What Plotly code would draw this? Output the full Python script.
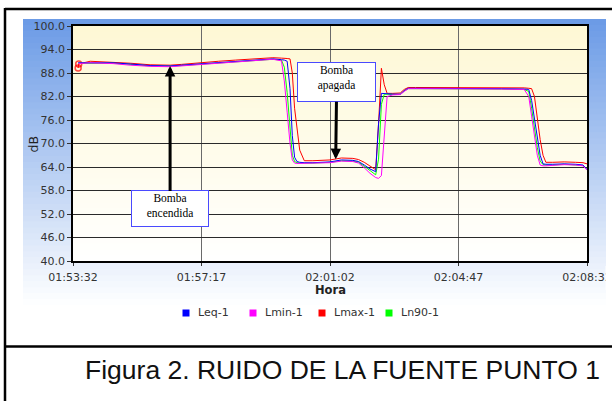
import pandas as pd
import plotly.graph_objects as go

# ---------------- data ----------------
start_time = "01:53:32"
elapsed_s = [9, 10, 30, 50, 70, 100, 135, 170, 190, 210, 240, 255, 285, 315, 330,
             350, 365, 370, 375, 380, 384, 388, 392, 397, 405, 420, 450, 470, 490, 500,
             510, 520, 530, 535, 540, 545, 550, 560, 573, 580, 587, 600, 650, 700, 750,
             790, 798, 803, 808, 813, 818, 823, 828, 840, 860, 880, 893, 900]

leq = [90.6, 90.6, 90.7, 90.7, 90.6, 90.3, 89.9, 89.8, 90.0, 90.2, 90.6, 90.7, 91.0, 91.3, 91.4,
       91.6, 91.4, 91.3, 91.0, 84.0, 72.0, 66.5, 65.4, 65.2, 65.1, 65.1, 65.3, 65.8, 65.7, 65.4,
       64.5, 63.5, 62.8, 75.0, 82.8, 82.8, 82.7, 82.6, 82.6, 83.5, 84.1, 84.1, 84.1, 84.1, 84.0,
       83.9, 83.8, 81.0, 76.0, 71.0, 67.0, 64.8, 64.7, 64.7, 64.8, 64.7, 64.5, 63.3]

lmin = [90.4, 90.4, 90.6, 90.5, 90.4, 90.0, 89.7, 89.6, 89.8, 90.0, 90.4, 90.6, 90.9, 91.2, 91.3,
        91.5, 91.1, 86.0, 78.0, 70.0, 65.8, 65.0, 64.9, 64.9, 64.9, 65.0, 65.1, 65.5, 65.4, 65.0,
        63.8, 62.4, 61.3, 61.1, 61.8, 72.0, 82.0, 82.4, 82.5, 83.3, 84.0, 84.0, 84.0, 84.0, 83.9,
        83.8, 82.0, 77.0, 72.0, 67.0, 64.5, 64.3, 64.3, 64.4, 64.6, 64.5, 64.3, 63.2]

lmax = [89.3, 90.3, 91.0, 90.9, 90.8, 90.5, 90.1, 90.0, 90.2, 90.5, 90.9, 91.0, 91.3, 91.6, 91.7,
        91.9, 91.8, 91.8, 91.7, 91.6, 88.0, 79.0, 73.5, 68.3, 65.6, 65.6, 65.8, 66.3, 66.2, 65.9,
        65.2, 64.2, 63.3, 75.0, 89.2, 85.0, 82.8, 82.8, 82.9, 83.8, 84.3, 84.3, 84.3, 84.3, 84.2,
        84.2, 84.1, 84.0, 82.0, 76.0, 71.0, 67.0, 65.2, 65.2, 65.3, 65.2, 65.1, 64.8]

ln90 = [90.5, 90.5, 90.6, 90.6, 90.5, 90.2, 89.8, 89.7, 89.9, 90.1, 90.5, 90.6, 90.9, 91.2, 91.3,
        91.5, 91.3, 89.5, 83.0, 74.0, 67.0, 65.4, 65.1, 65.0, 65.0, 65.0, 65.2, 65.6, 65.5, 65.2,
        64.2, 63.0, 62.0, 66.0, 80.0, 82.6, 82.6, 82.5, 82.5, 83.4, 84.0, 84.0, 84.0, 84.0, 83.9,
        83.8, 83.3, 79.0, 74.0, 69.0, 65.5, 64.6, 64.5, 64.5, 64.7, 64.6, 64.4, 63.3]

series_names = ["Leq-1", "Lmin-1", "Lmax-1", "Ln90-1"]
series_colors = ["#0000ff", "#ff00ff", "#ff0000", "#00ff00"]
x_tick_labels = ["01:53:32", "01:57:17", "02:01:02", "02:04:47", "02:08:32"]
y_range = [40, 100]
y_step = 6

# ---------------- helpers ----------------
DAY = "2000-01-01 "
t0 = pd.Timestamp(DAY + start_time)
x_time = [t0 + pd.Timedelta(seconds=s) for s in elapsed_s]
tickvals = [pd.Timestamp(DAY + t) for t in x_tick_labels]

# plot area in pixels
W, H = 612, 401
L, R, T, B = 73, 587, 26, 261


def px(x):
    return (x - L) / (R - L)


def py(y):
    return (B - y) / (B - T)


def lerp(c1, c2, f):
    return "rgb(%d,%d,%d)" % tuple(round(a + (b - a) * f) for a, b in zip(c1, c2))


shapes = []
# blue panel gradient
p_top, p_bot, nb = 19, 305, 48
for i in range(nb):
    y0 = p_top + (p_bot - p_top) * i / nb
    y1 = p_top + (p_bot - p_top) * (i + 1) / nb + 0.8
    shapes.append(dict(type="rect", xref="paper", yref="paper", layer="below",
                       x0=px(23), x1=px(606), y0=py(y0), y1=py(min(y1, p_bot)),
                       line=dict(width=0),
                       fillcolor=lerp((106, 154, 230), (255, 255, 255), (i + 0.5) / nb)))
# plot area cream gradient
nc = 40
for i in range(nc):
    y0 = T + (B - T) * i / nc
    y1 = T + (B - T) * (i + 1) / nc + 0.8
    shapes.append(dict(type="rect", xref="paper", yref="paper", layer="below",
                       x0=0, x1=1, y0=py(y0), y1=py(min(y1, B)),
                       line=dict(width=0),
                       fillcolor=lerp((254, 248, 212), (255, 255, 255), (i + 0.5) / nc)))
# outer frame lines
shapes += [
    dict(type="line", xref="paper", yref="paper", layer="above",
         x0=px(5), x1=px(615), y0=py(9), y1=py(9), line=dict(color="black", width=2.5)),
    dict(type="line", xref="paper", yref="paper", layer="above",
         x0=px(5), x1=px(5), y0=py(8), y1=py(405), line=dict(color="black", width=2.5)),
    dict(type="line", xref="paper", yref="paper", layer="above",
         x0=px(5), x1=px(615), y0=py(346.5), y1=py(346.5), line=dict(color="black", width=2.5)),
    # white strip right of the panel (clips last tick label like the original)
    dict(type="rect", xref="paper", yref="paper", layer="above",
         x0=px(605.5), x1=px(616), y0=py(266), y1=py(290),
         line=dict(width=0), fillcolor="white"),
]

fig = go.Figure()

draw_order = [2, 3, 0, 1]  # Lmax, Ln90, Leq, Lmin
values = [leq, lmin, lmax, ln90]
for k in draw_order:
    tr = dict(x=x_time, y=values[k], mode="lines", showlegend=False,
              line=dict(color=series_colors[k], width=1), hoverinfo="x+y",
              name=series_names[k])
    if k == 2:
        tr["mode"] = "lines+markers"
        tr["marker"] = dict(symbol="circle-open", color=series_colors[k],
                            size=[6, 6] + [0] * (len(elapsed_s) - 2), line=dict(width=1.5))
    fig.add_trace(go.Scatter(**tr))

# legend (square swatch + label), laid out like the original
legend_sq_x = [186, 253, 322, 389]
legend_y = 313
annotations = []
for k in range(4):
    cx = legend_sq_x[k]
    shapes.append(dict(type="rect", xref="paper", yref="paper", layer="above",
                       x0=px(cx - 3.5), x1=px(cx + 3.5), y0=py(legend_y - 3.5), y1=py(legend_y + 3.5),
                       line=dict(width=0), fillcolor=series_colors[k]))
    annotations.append(dict(x=px(cx + 9.5), y=py(legend_y), xref="paper", yref="paper",
                            xanchor="left", yanchor="middle", showarrow=False,
                            text=series_names[k],
                            font=dict(family="DejaVu Sans", size=11, color="#333333")))

tick_font = dict(family="DejaVu Sans", size=11, color="#333333")

annotations += [
    dict(x=x_time[elapsed_s.index(170)], y=leq[elapsed_s.index(170)], xref="x", yref="y",
         text="Bomba<br>encendida", showarrow=True, ax=0, ay=143,
         arrowhead=2, arrowsize=0.7, arrowwidth=3, arrowcolor="black",
         font=dict(family="Liberation Serif", size=11.5, color="black"),
         bgcolor="white", bordercolor="#4a4aff", borderwidth=1, borderpad=1,
         width=74, height=33, valign="top", align="center"),
    dict(x=t0 + pd.Timedelta(seconds=460), y=66.0, xref="x", yref="y",
         text="Bomba<br>apagada", showarrow=True, ax=1, ay=-77,
         arrowhead=2, arrowsize=0.7, arrowwidth=3, arrowcolor="black",
         font=dict(family="Liberation Serif", size=11.5, color="black"),
         bgcolor="white", bordercolor="#4a4aff", borderwidth=1, borderpad=1,
         width=75, height=36, valign="top", align="center"),
    dict(x=px(33), y=py(144.5), xref="paper", yref="paper", text="dB", showarrow=False,
         xanchor="center", yanchor="middle",
         textangle=-90, font=dict(family="DejaVu Sans", size=12.5, color="#222222")),
    dict(x=px(330), y=py(290), xref="paper", yref="paper", text="<b>Hora</b>",
         xanchor="center", yanchor="middle",
         showarrow=False, font=dict(family="DejaVu Sans", size=11.5, color="#222222")),
    dict(x=px(342), y=py(370), xref="paper", yref="paper",
         xanchor="center", yanchor="middle",
         text="Figura 2. RUIDO DE LA FUENTE PUNTO 1", showarrow=False,
         font=dict(family="Liberation Sans", size=26.5, color="#111111")),
]

fig.update_layout(
    width=W, height=H,
    margin=dict(l=L, r=W - R, t=T, b=H - B, autoexpand=False),
    paper_bgcolor="white", plot_bgcolor="white",
    shapes=shapes,
    showlegend=False,
    xaxis=dict(type="date", range=[tickvals[0], tickvals[-1]],
               tickmode="array", tickvals=tickvals, ticktext=x_tick_labels,
               ticks="outside", ticklen=3, tickcolor="#333", tickfont=tick_font,
               ticklabelstandoff=2,
               showgrid=True, gridcolor="#6a6a6a", gridwidth=1,
               showline=True, linecolor="black", linewidth=1.5, mirror=True,
               zeroline=False, fixedrange=True),
    yaxis=dict(range=y_range, dtick=y_step, tick0=y_range[0], tickformat=".1f",
               ticks="outside", ticklen=4, tickcolor="#333", tickfont=tick_font,
               showgrid=True, gridcolor="#2a2a2a", gridwidth=1,
               showline=True, linecolor="black", linewidth=1.5, mirror=True,
               zeroline=False, fixedrange=True),
    annotations=annotations,
)

fig.write_html("out.html", config={"displayModeBar": False},
               post_script="document.body.style.margin='0';document.body.style.overflow='hidden';")
